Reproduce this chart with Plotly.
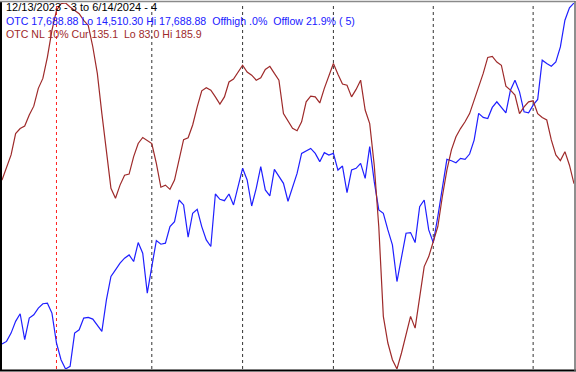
import plotly.graph_objects as go

# Trading-day series 12/13/2023 .. 6/14/2024 (127 sessions)
otc = [14727, 14750, 14822, 14924, 14990, 14765, 14952, 14981, 15039, 15077,
       15082, 14996, 14736, 14591, 14510.30, 14533, 14822, 14851, 14952, 14958,
       14944, 14895, 14837, 15111, 15314, 15371, 15429, 15473, 15501, 15444,
       15608, 15516, 15169, 15400, 15626, 15594, 15603, 15747, 15790, 15978,
       15935, 15655, 15863, 15897, 15747, 15631, 15574, 16030, 15984, 15972,
       16030, 15935, 16094, 16253, 16152, 15926, 16079, 16267, 16065, 16013,
       16244, 16186, 16123, 15967, 16088, 16209, 16383, 16406, 16426, 16383,
       16311, 16389, 16368, 16383, 16238, 16273, 16042, 16238, 16253, 16296,
       16166, 16441, 16137, 15892, 15863, 15718, 15588, 15270, 15487, 15689,
       15695, 15608, 15920, 15978, 15718, 15608, 15834, 16094, 16331, 16319,
       16302, 16339, 16331, 16377, 16498, 16730, 16695, 16686, 16782, 16831,
       16787, 16735, 16932, 17018, 16917, 16744, 16735, 16802, 16851, 17192,
       17163, 17140, 17177, 17307, 17539, 17648, 17688.88]

nl = [136.1, 139.9, 143.2, 149.2, 150.6, 151.3, 154.4, 156.9, 161.9, 164.7,
      170.7, 178.2, 183.8, 185.7, 185.9, 184.8, 183.8, 182.9, 181.0, 179.6,
      173.6, 166.1, 154.8, 143.6, 133.8, 131.0, 134.7, 137.5, 137.8, 142.7,
      146.4, 148.1, 147.3, 146.4, 140.8, 134.1, 134.7, 133.5, 136.1, 141.7,
      147.5, 148.0, 151.6, 156.7, 161.2, 162.1, 161.4, 159.5, 157.5, 159.5,
      163.7, 164.5, 166.3, 168.4, 166.5, 165.6, 164.2, 164.9, 167.2, 168.1,
      166.1, 164.2, 154.8, 152.8, 150.7, 150.0, 152.5, 158.1, 159.7, 159.5,
      157.8, 161.9, 165.3, 168.9, 165.9, 163.1, 162.8, 159.5, 161.6, 164.2,
      155.8, 152.0, 140.3, 123.0, 97.8, 90.3, 85.6, 83.0, 87.5, 93.1,
      97.8, 94.5, 102.5, 111.8, 114.6, 118.8, 123.0, 131.5, 138.9, 144.6,
      148.3, 150.6, 152.5, 154.8, 158.6, 162.1, 166.1, 170.6, 170.9, 169.3,
      168.4, 162.5, 161.4, 160.0, 154.8, 156.7, 158.1, 158.4, 154.8, 153.7,
      153.0, 147.4, 143.2, 141.6, 144.1, 140.3, 135.1]

# session index of first trading day of each month (Jan is year start)
year_start_idx = [12]
month_start_idx = [33, 53, 73, 95, 117]

title_line = "12/13/2023 - 3 to 6/14/2024 - 4"
otc_line = ("OTC 17,688.88 Lo 14,510.30 Hi 17,688.88\u00a0 Offhigh .0%\u00a0 "
            "Offlow 21.9% ( 5)")
nl_line = "OTC NL 10% Cur 135.1\u00a0 Lo 83.0 Hi 185.9"

BLUE = "#1f1fff"
RED = "#9e2a2a"
W, H = 576, 372
ML, MR, MT, MB = 2, 2, 3, 3
PW, PH = W - ML - MR, H - MT - MB

xs = list(range(len(otc)))

fig = go.Figure()
fig.add_trace(go.Scatter(x=xs, y=nl, mode="lines", yaxis="y2",
                         line=dict(color=RED, width=1.2), hoverinfo="skip"))
fig.add_trace(go.Scatter(x=xs, y=otc, mode="lines", yaxis="y",
                         line=dict(color=BLUE, width=1.2), hoverinfo="skip"))

shapes = []
for i in year_start_idx:
    shapes.append(dict(type="line", xref="x", yref="paper", x0=i, x1=i, y0=0, y1=1,
                       line=dict(color="#ff2020", width=1, dash="3px,3px"), layer="below"))
for i in month_start_idx:
    shapes.append(dict(type="line", xref="x", yref="paper", x0=i, x1=i, y0=0, y1=1,
                       line=dict(color="#333333", width=1, dash="3px,3px"), layer="below"))
# frame
shapes += [
    dict(type="line", xref="paper", yref="paper", x0=-1 / PW, x1=-1 / PW, y0=-2 / PH, y1=1 + 2 / PH,
         line=dict(color="#000000", width=2)),
    dict(type="line", xref="paper", yref="paper", x0=-2 / PW, x1=1 + 2 / PW, y0=-1.5 / PH, y1=-1.5 / PH,
         line=dict(color="#000000", width=2)),
    dict(type="line", xref="paper", yref="paper", x0=-2 / PW, x1=1 + 1.5 / PW, y0=1 + 1.5 / PH, y1=1 + 1.5 / PH,
         line=dict(color="#8a8a8a", width=1.5)),
    dict(type="line", xref="paper", yref="paper", x0=1 + 1 / PW, x1=1 + 1 / PW, y0=-2 / PH, y1=1 + 2 / PH,
         line=dict(color="#6a6a6a", width=1.5)),
]

FONT = "Liberation Sans, Arial, sans-serif"
ann = []
for txt, col, yc, fs in [(title_line, "#000000", 7, 11),
                         (otc_line, "#2020ff", 20.5, 10.6),
                         (nl_line, RED, 33.5, 10.6)]:
    ann.append(dict(text=txt, xref="paper", yref="paper", x=(4 - ML) / PW, y=1 - (yc - MT) / PH,
                    xanchor="left", yanchor="middle", showarrow=False,
                    font=dict(family=FONT, size=fs, color=col)))

fig.update_layout(
    width=W, height=H,
    margin=dict(l=ML, r=MR, t=MT, b=MB, pad=0),
    paper_bgcolor="white", plot_bgcolor="white",
    showlegend=False,
    xaxis=dict(range=[0, len(otc) - 1], visible=False, fixedrange=True),
    yaxis=dict(range=[min(otc), max(otc)], visible=False, fixedrange=True),
    yaxis2=dict(range=[min(nl), max(nl)], visible=False, overlaying="y", fixedrange=True),
    shapes=shapes, annotations=ann,
)

fig.write_html("out.html", config={"displayModeBar": False, "staticPlot": True},
               post_script="document.body.style.margin='0';document.body.style.overflow='hidden';")
